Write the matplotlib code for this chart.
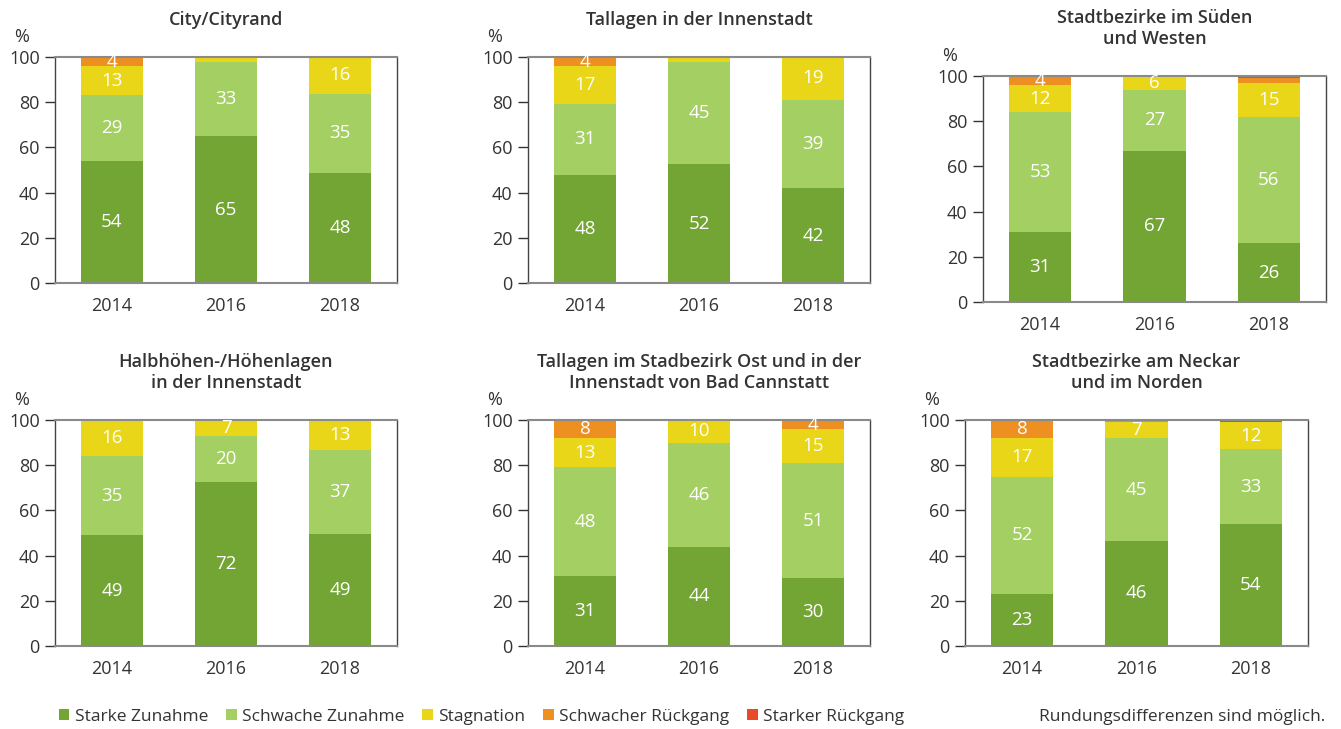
import numpy as np
import matplotlib
matplotlib.use('Agg')
import matplotlib.pyplot as plt
from matplotlib.patches import Patch

plt.rcParams['font.family'] = ['Open Sans', 'DejaVu Sans']

# categories and series
years = ['2014', '2016', '2018']
series = ['Starke Zunahme', 'Schwache Zunahme', 'Stagnation', 'Schwacher Rückgang', 'Starker Rückgang']
colors = ['#72a534', '#a4cf63', '#e9d618', '#ee8f22', '#e84a2a']

titles = [
    'City/Cityrand',
    'Tallagen in der Innenstadt',
    'Stadtbezirke im Süden\nund Westen',
    'Halbhöhen-/Höhenlagen\nin der Innenstadt',
    'Tallagen im Stadbezirk Ost und in der\nInnenstadt von Bad Cannstatt',
    'Stadtbezirke am Neckar\nund im Norden',
]

# values per panel: rows = years, columns = series (rounded, so sums may differ from 100)
city = [[54, 29, 13, 4, 0], [65, 33, 2, 0, 0], [48, 35, 16, 0, 0]]
tallagen = [[48, 31, 17, 4, 0], [52, 45, 2, 0, 0], [42, 39, 19, 0, 0]]
sueden = [[31, 53, 12, 4, 0], [67, 27, 6, 0, 0], [26, 56, 15, 2, 1]]
halbhoehen = [[49, 35, 16, 0, 0], [72, 20, 7, 0, 0], [49, 37, 13, 0, 0]]
ost = [[31, 48, 13, 8, 0], [44, 46, 10, 0, 0], [30, 51, 15, 4, 0]]
neckar = [[23, 52, 17, 8, 0], [46, 45, 7, 1, 0], [54, 33, 12, 0, 1]]
panels = [city, tallagen, sueden, halbhoehen, ost, neckar]

W, H = 1341, 729
fig = plt.figure(figsize=(W / 100, H / 100), dpi=100)

# axes boxes in pixels: left, right, top (y=100), bottom (y=0)
boxes = [(55, 397, 57, 283), (528, 870, 57, 283), (983, 1326, 76, 302),
         (55, 397, 420, 646), (528, 870, 420, 646), (965, 1308, 420, 646)]

txt = '#333333'
x = np.arange(len(years))
for data, title, (l, r, t, b) in zip(panels, titles, boxes):
    ax = fig.add_axes([l / W, 1 - b / H, (r - l) / W, (b - t) / H])
    vals = np.array(data, dtype=float)
    # stacks are shown as shares of 100 % (rounding differences)
    heights = vals / vals.sum(axis=1, keepdims=True) * 100
    bottom = np.zeros(len(years))
    for j in range(len(series)):
        ax.bar(x, heights[:, j], bottom=bottom, width=0.545, color=colors[j], zorder=2)
        for i in range(len(years)):
            if vals[i, j] >= 4:
                ax.text(x[i], bottom[i] + heights[i, j] / 2, f'{vals[i, j]:.0f}', ha='center',
                        va='center', color='white', fontsize=13.5, zorder=3)
        bottom += heights[:, j]
    ax.set_xlim(-0.5, 2.5)
    ax.set_ylim(0, 100)
    ax.set_yticks(range(0, 101, 20))
    ax.set_xticks(x)
    ax.set_xticklabels(years)
    ax.tick_params(axis='x', length=0, pad=10, labelsize=13, labelcolor=txt)
    ax.tick_params(axis='y', length=7, width=1, color='#333333', pad=4, labelsize=13, labelcolor=txt)
    for s in ['left', 'right']:
        ax.spines[s].set_color('#444444')
        ax.spines[s].set_linewidth(1)
    for s in ['top', 'bottom']:
        ax.spines[s].set_color('#8a8a8a')
        ax.spines[s].set_linewidth(1.5)
    ax.set_title(title, fontsize=13, fontweight='semibold', color=txt, pad=23, linespacing=1.2)
    ax.annotate('%', xy=(0, 1), xycoords='axes fraction', xytext=(-33, 11),
                textcoords='offset pixels', ha='center', va='bottom', fontsize=13, color=txt)

handles = [Patch(facecolor=c, edgecolor='none') for c in colors]
fig.legend(handles, series, loc='center left', bbox_to_anchor=(52 / W, 1 - 717 / H), ncol=5,
           frameon=False, fontsize=12.5, handlelength=0.6, handleheight=0.6, handletextpad=0.3,
           columnspacing=1.05, borderaxespad=0, labelcolor=txt)
fig.text(1325 / W, 1 - 717 / H, 'Rundungsdifferenzen sind möglich.', ha='right', va='center',
         fontsize=12.5, color=txt)

fig.savefig('out.png', dpi=100)
